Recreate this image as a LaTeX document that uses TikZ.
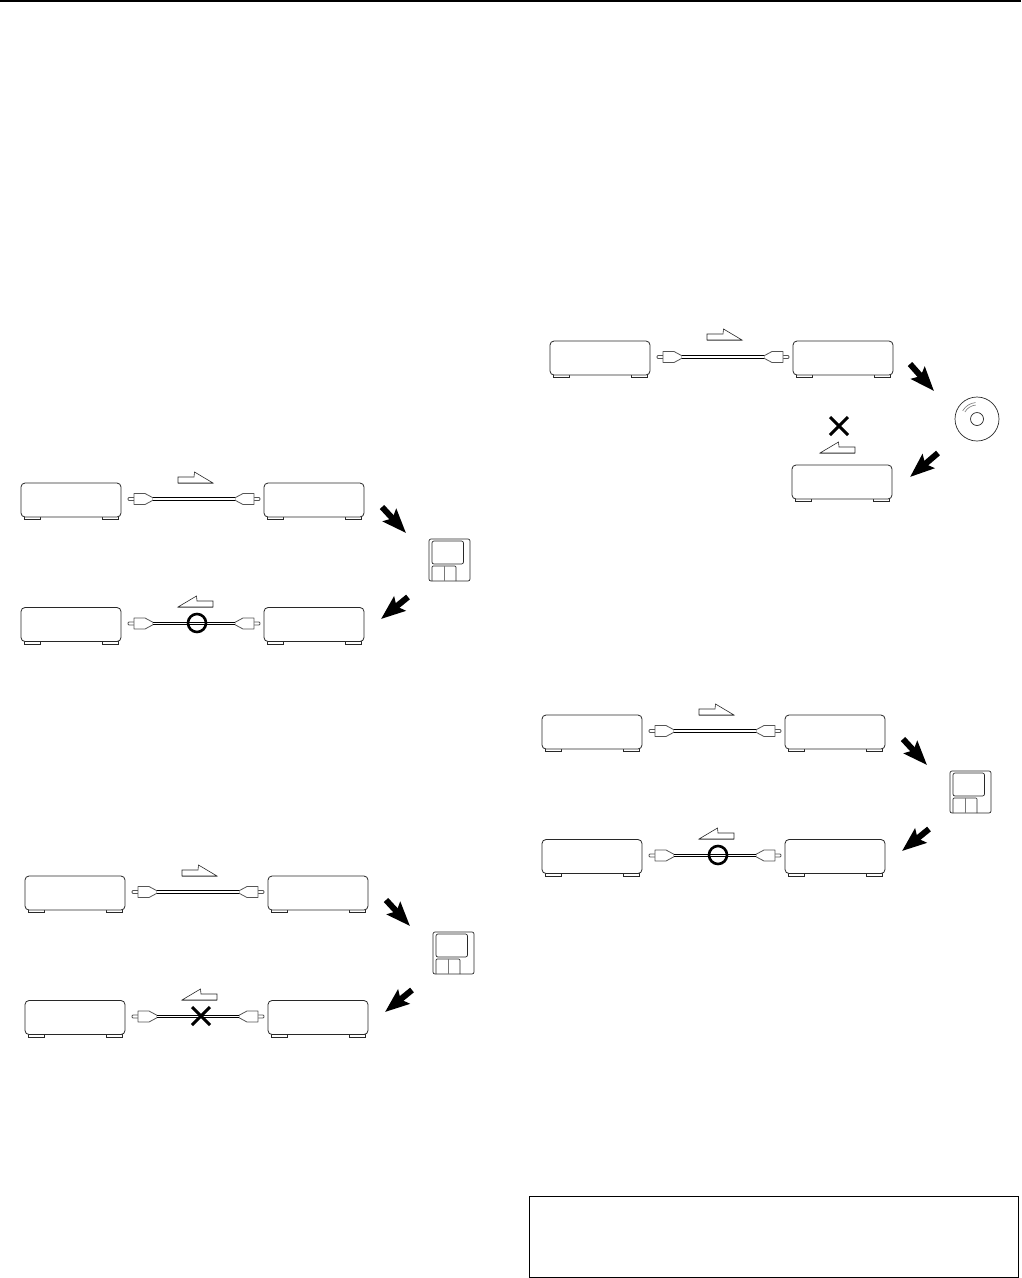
\documentclass[tikz,border=0pt]{standalone}
\usepackage{xcolor}
\usetikzlibrary{arrows.meta, shapes.misc}
\definecolor{mydark}{RGB}{40,40,40}
\definecolor{mygray}{RGB}{120,120,120}
\definecolor{mymid}{RGB}{85,85,85}
\tikzset{
  unitbody/.style={rectangle, draw=mydark, fill=white, minimum width=100pt, minimum height=34pt,
    inner sep=0pt, outer sep=0pt, rounded corners=4pt, line width=0.8pt},
  footbox/.style={rectangle, draw=mydark, fill=white, minimum width=16pt, minimum height=3pt,
    inner sep=0pt, outer sep=0pt, line width=0.8pt},
  plugline/.style={draw=mymid, fill=white, line width=0.8pt, line join=round},
  cableline/.style={draw=black, line width=1.3pt, double=white, double distance=1.3pt},
  flowline/.style={draw=mydark, fill=white, line width=0.6pt, line join=miter},
  bigarrow/.style={-{Stealth[length=24pt, width=18pt, inset=4pt]}, line width=6pt, color=black},
  okmark/.style={circle, draw=black, line width=2.6pt, minimum size=18pt, inner sep=0pt},
  nomark/.style={cross out, draw=black, line width=3pt, minimum size=15pt, inner sep=0pt},
  thin part/.style={draw=mydark, line width=0.7pt},
  pics/unitbox/.style={code={
    \node[footbox] (-foot1) at (11,35) {};
    \node[footbox] (-foot2) at (89,35) {};
    \node[unitbody] (-body) at (50,17) {};
  }},
  pics/plugend/.style={code={
    \draw[plugline, rounded corners=1pt] (7,-1.5) -- (0,-1.5) -- (0,1.5) -- (7,1.5);
    \draw[plugline] (6,-5.5) -- (17,-5.5) -- (25,-1.2) -- (25,1.2) -- (17,5.5) -- (6,5.5) -- cycle;
    \coordinate (-end) at (25,0);
  }},
  pics/cablerow/.style={code={
    \pic (-left) at (0,0) {unitbox};
    \pic (-right) at (243,0) {unitbox};
    \pic (-pl) at (107,16) {plugend};
    \pic[xscale=-1] (-pr) at (239,16) {plugend};
    \draw[cableline] (-pl-end) -- (-pr-end);
  }},
  pics/flowmark/.style={code={
    \draw[flowline] (0,11) -- (0,5) -- (16,5) -- (16.5,0) -- (35,11) -- cycle;
    \draw[draw=mygray, line width=1pt] (0,11) -- (35,11);
  }},
  pics/floppy/.style={code={
    \draw[thin part, rounded corners=2pt] (0,0) rectangle (41,42);
    \draw[thin part, rounded corners=2pt] (3,2) rectangle (34.5,25);
    \draw[thin part, rounded corners=1pt] (3,42) -- (3,27) -- (27,27) -- (27,42);
    \draw[draw=mygray, line width=0.6pt] (15,27) -- (15,42);
  }}
}
\begin{document}
\begin{tikzpicture}[x=1pt, y=-1pt]
  \useasboundingbox (0,0) rectangle (1021,1278);
  \coordinate (rule1) at (0,1);
  \coordinate (rule2) at (1021,1);
  \draw[line width=2pt] (rule1) -- (rule2);

  % three pairs of rows
  \foreach \name/\dx/\dy/\sign in {a/0/0/okmark, c/521/232/okmark, d/4/393/nomark} {
    \begin{scope}[shift={(\dx,\dy)}, name prefix=\name-]
      \pic (top) at (21,483) {cablerow};
      \pic (low) at (21,607.5) {cablerow};
      \pic at (178,472) {flowmark};
      \pic[xscale=-1] at (213,596) {flowmark};
      \node[\sign] (sign) at (197,623) {};
      \coordinate (in1) at (382,507);
      \coordinate (in2) at (406,533);
      \coordinate (out1) at (408,597);
      \coordinate (out2) at (381,619);
      \draw[bigarrow] (in1) -- (in2);
      \draw[bigarrow] (out1) -- (out2);
      \pic (disk) at (429,539) {floppy};
    \end{scope}
  }

  % disc group
  \pic (b) at (550,341) {cablerow};
  \pic (b3) at (792,465) {unitbox};
  \pic at (707,329) {flowmark};
  \pic[xscale=-1] at (855,442) {flowmark};
  \node[nomark] (bsign) at (839,426) {};
  \coordinate (bin1) at (910,364);
  \coordinate (bin2) at (934,391);
  \coordinate (bout1) at (938,453);
  \coordinate (bout2) at (910,477);
  \draw[bigarrow] (bin1) -- (bin2);
  \draw[bigarrow] (bout1) -- (bout2);
  \node[circle, draw=mydark, line width=0.7pt, minimum size=44pt, inner sep=0pt] (cd) at (977,419) {};
  \node[circle, draw=mydark, line width=0.7pt, minimum size=13pt, inner sep=0pt] (cdhole) at (977,419) {};
  \foreach \r in {14,16.5} {
    \draw[draw=mygray, line width=0.6pt] (cd.center) ++(-150:\r) arc (-150:-95:\r);
  }

  \node[rectangle, draw=black, line width=1pt, minimum width=489pt, minimum height=81pt, inner sep=0pt] (notebox) at (773.5,1236.5) {};
\end{tikzpicture}
\end{document}
